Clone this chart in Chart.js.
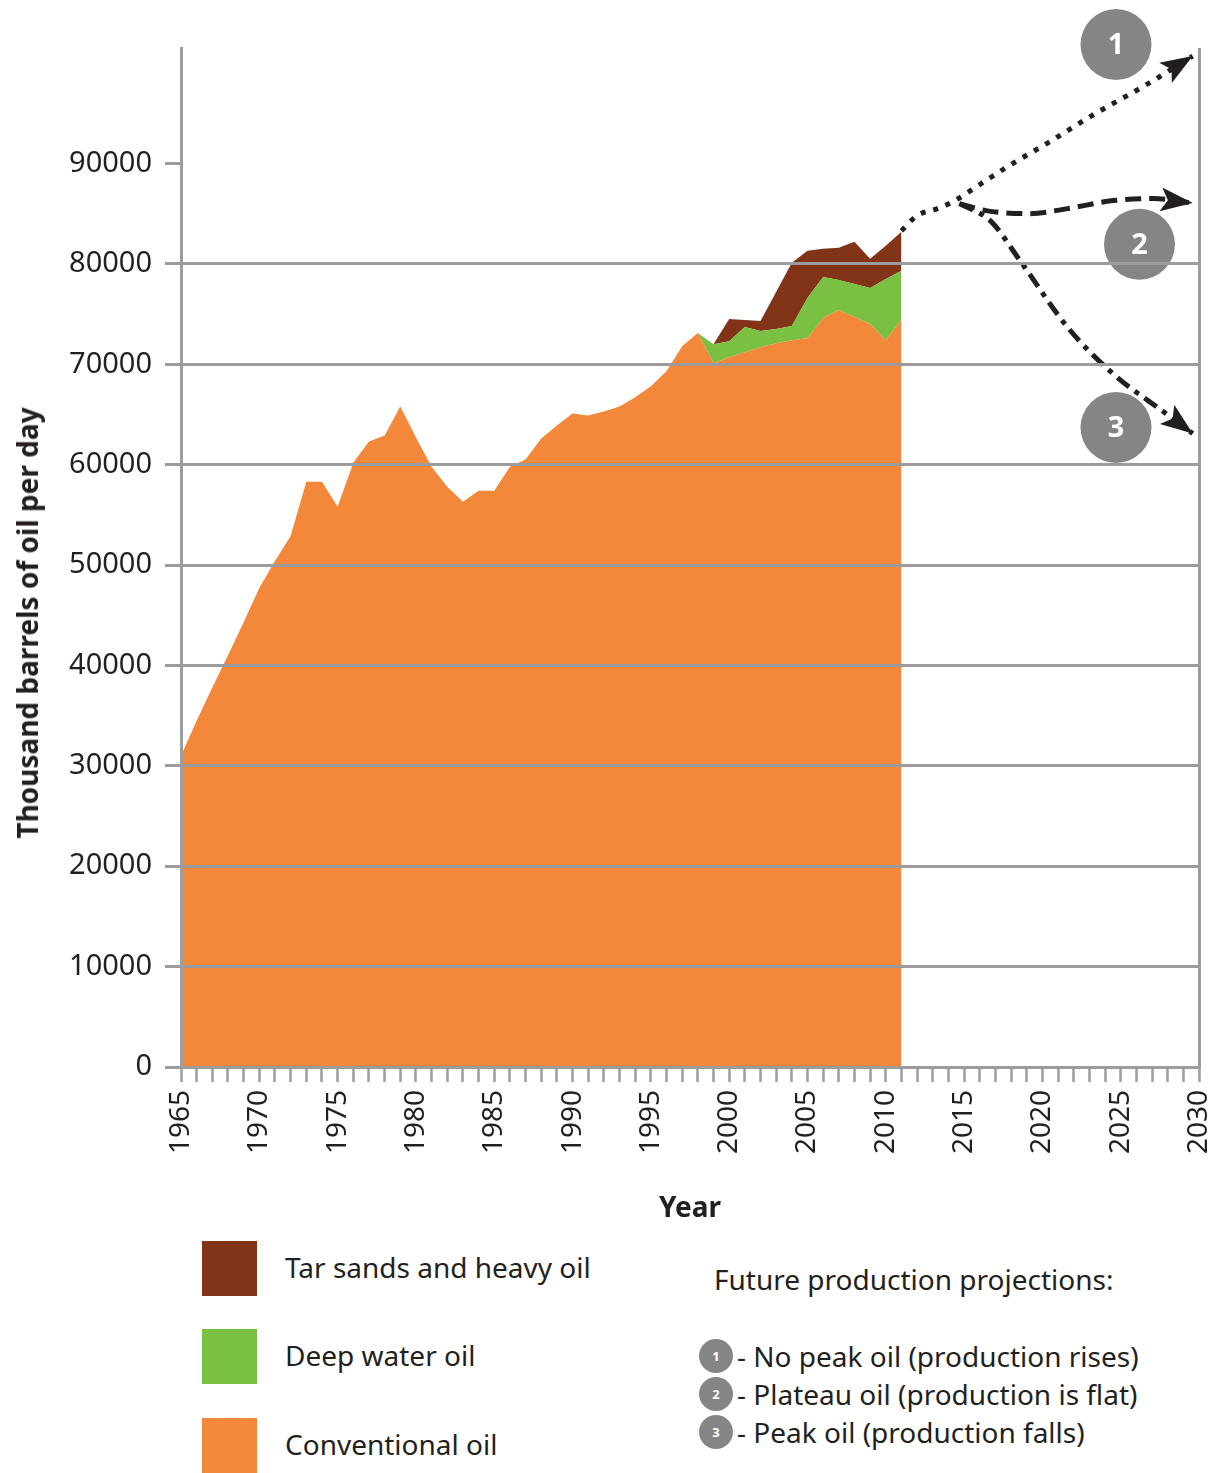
<!DOCTYPE html>
<html>
<head>
<meta charset="utf-8">
<script src="https://cdn.jsdelivr.net/npm/chart.js@4.4.1/dist/chart.umd.min.js"></script>
<style>
  body { margin: 0; background: #fff; font-family: "Noto Sans", sans-serif; color: #231f20; }
  #wrap { position: relative; width: 1223px; height: 1473px; overflow: hidden; }
  #chart { position: absolute; left: 0; top: 0; }
  #ytitle { position: absolute; left: 27px; top: 623px; transform: translate(-50%, -50%) rotate(-90deg);
            white-space: nowrap; font-weight: bold; font-size: 28px; }
  .sw { position: absolute; left: 202px; width: 55px; height: 55px; }
  .lt { position: absolute; left: 285px; font-size: 28px; line-height: 36px; white-space: nowrap; }
  .pt { position: absolute; left: 714px; font-size: 28px; line-height: 36px; white-space: nowrap; }
  .dot { position: absolute; left: 699px; width: 34px; height: 34px; border-radius: 50%; background: #858585;
         color: #fff; font-weight: bold; font-size: 13px; line-height: 34px; text-align: center; }
  .pi { position: absolute; left: 737px; font-size: 28px; line-height: 36px; white-space: nowrap; }
</style>
</head>
<body>
<div id="wrap">
  <canvas id="chart" width="1223" height="1230"></canvas>
  <div id="ytitle">Thousand barrels of oil per day</div>

  <div class="sw" style="top:1241px;background:#823418"></div>
  <div class="lt" style="top:1249px">Tar sands and heavy oil</div>
  <div class="sw" style="top:1329px;background:#7ac143"></div>
  <div class="lt" style="top:1337px">Deep water oil</div>
  <div class="sw" style="top:1418px;background:#f3873a"></div>
  <div class="lt" style="top:1426px">Conventional oil</div>

  <div class="pt" style="top:1261px">Future production projections:</div>
  <div class="dot" style="top:1339px">1</div>
  <div class="pi" style="top:1338px">- No peak oil (production rises)</div>
  <div class="dot" style="top:1377px">2</div>
  <div class="pi" style="top:1376px">- Plateau oil (production is flat)</div>
  <div class="dot" style="top:1415px">3</div>
  <div class="pi" style="top:1414px">- Peak oil (production falls)</div>
</div>

<script>
// ===== data =====
const years = [1965,1966,1967,1968,1969,1970,1971,1972,1973,1974,1975,1976,1977,1978,1979,
  1980,1981,1982,1983,1984,1985,1986,1987,1988,1989,1990,1991,1992,1993,1994,1995,1996,1997,
  1998,1999,2000,2001,2002,2003,2004,2005,2006,2007,2008,2009,2010,2011];
const conventional = [31000,34500,37800,41000,44300,47700,50400,52900,58300,58300,55800,60200,62300,62900,65800,
  62700,59800,57800,56300,57400,57400,59800,60500,62600,63900,65100,64900,65300,65800,66700,67800,69300,71800,
  73100,70100,70700,71200,71700,72100,72400,72600,74600,75400,74700,74000,72400,74400];

const deepYears = [1998,1999,2000,2001,2002,2003,2004,2005,2006,2007,2008,2009,2010,2011];
const deepWater = [0,1900,1600,2500,1600,1400,1400,4000,4100,3000,3300,3600,6100,4900];

const tarYears = [1999,2000,2001,2002,2003,2004,2005,2006,2007,2008,2009,2010,2011];
const tarSands = [0,2200,700,1000,3700,6300,4700,2800,3200,4200,2900,3300,3900];

// projections
const p1Years = [2011,2012,2013.3,2014.3,2016,2018,2020.3,2023.2,2026.7,2029.6];
const p1Values = [83300,84800,85500,86200,87900,89900,92000,94800,97900,100700];
const p2Years = [2014.7,2016.4,2019.2,2021.6,2024.5,2027.1,2029.6];
const p2Values = [86000,85300,85000,85500,86300,86500,86050];
const p3Years = [2014.7,2016.7,2018.6,2021.6,2024.5,2027.9,2029.6];
const p3Values = [86000,84250,80260,73700,69070,65080,63100];

// numbered markers
const markerLabels = ["1","2","3"];
const markerYears = [2024.7,2026.2,2024.7];
const markerValues = [101850,81950,63700];

const yTicks = [0,10000,20000,30000,40000,50000,60000,70000,80000,90000];
const xTicks = [];
for (let y = 1965; y <= 2030; y++) xTicks.push(y);

const GRAY = "#9c9c9e";
const INK = "#231f20";
const FONT = "'Noto Sans', sans-serif";

function pts(xs, ys) { return xs.map((x, i) => ({ x: x, y: ys[i] })); }

function projection(xs, ys, dash, name) {
  return {
    type: "line", label: name, data: pts(xs, ys), stack: name,
    borderColor: INK, borderWidth: 5, borderDash: dash, borderCapStyle: "butt",
    pointRadius: 0, fill: false, tension: 0.4, cubicInterpolationMode: "monotone", arrow: true
  };
}

// arrow heads + numbered circles
const extras = {
  id: "extras",
  afterDatasetsDraw(chart) {
    const ctx = chart.ctx;
    chart.data.datasets.forEach((ds, i) => {
      if (!ds.arrow) return;
      const pts = chart.getDatasetMeta(i).data;
      const last = pts[pts.length - 1];
      let bx = last.cp1x, by = last.cp1y;
      if (bx === undefined || (Math.abs(bx - last.x) < 0.5 && Math.abs(by - last.y) < 0.5)) {
        bx = pts[pts.length - 2].x; by = pts[pts.length - 2].y;
      }
      const a = Math.atan2(last.y - by, last.x - bx);
      ctx.save();
      ctx.translate(last.x, last.y);
      ctx.rotate(a);
      ctx.fillStyle = INK;
      ctx.beginPath();
      ctx.moveTo(0, 0);
      ctx.lineTo(-32, -12);
      ctx.lineTo(-25, 0);
      ctx.lineTo(-32, 12);
      ctx.closePath();
      ctx.fill();
      ctx.restore();
    });
    const xs = chart.scales.x, ys = chart.scales.y;
    markerLabels.forEach((t, i) => {
      const cx = xs.getPixelForValue(markerYears[i]);
      const cy = ys.getPixelForValue(markerValues[i]);
      ctx.save();
      ctx.fillStyle = "#858585";
      ctx.beginPath();
      ctx.arc(cx, cy, 35.5, 0, Math.PI * 2);
      ctx.fill();
      ctx.fillStyle = "#fff";
      ctx.font = "bold 29px " + FONT;
      ctx.textAlign = "center";
      ctx.textBaseline = "middle";
      ctx.fillText(t, cx, cy + 1);
      ctx.restore();
    });
  }
};

new Chart(document.getElementById("chart"), {
  type: "line",
  data: {
    datasets: [
      { label: "Conventional oil", data: pts(years, conventional), stack: "oil",
        backgroundColor: "#f3873a", borderWidth: 0, pointRadius: 0, fill: "origin", tension: 0 },
      { label: "Deep water oil", data: pts(deepYears, deepWater), stack: "oil",
        backgroundColor: "#7ac143", borderWidth: 0, pointRadius: 0, fill: "-1", tension: 0 },
      { label: "Tar sands and heavy oil", data: pts(tarYears, tarSands), stack: "oil",
        backgroundColor: "#823418", borderWidth: 0, pointRadius: 0, fill: "-1", tension: 0 },
      projection(p1Years, p1Values, [5, 8], "p1"),
      projection(p2Years, p2Values, [16, 8], "p2"),
      projection(p3Years, p3Values, [15, 7, 5, 7], "p3")
    ]
  },
  options: {
    responsive: false,
    animation: false,
    layout: { padding: { top: 48, right: 24, left: 0, bottom: 0 } },
    plugins: { legend: { display: false }, tooltip: { enabled: false } },
    scales: {
      x: {
        type: "linear", min: 1965, max: 2030,
        afterBuildTicks: s => { s.ticks = xTicks.map(v => ({ value: v })); },
        afterFit: s => { s.height = 163; s.paddingLeft = 0; s.paddingRight = 0; },
        ticks: {
          autoSkip: false, maxRotation: 90, minRotation: 90, padding: 8,
          color: INK, font: { family: FONT, size: 28 },
          callback: v => (v % 5 === 0 ? String(v) : "")
        },
        grid: {
          color: c => (c.tick && c.tick.value === 2030 ? GRAY : "transparent"),
          lineWidth: 3, tickColor: GRAY, tickWidth: 2.5, tickLength: 15, z: 1
        },
        border: { color: GRAY, width: 3, z: 1 },
        title: { display: true, text: "Year", color: INK, padding: { top: 0, bottom: 4 },
                 font: { family: FONT, size: 28, weight: "bold" } }
      },
      y: {
        stacked: true, min: 0, max: 101500,
        afterBuildTicks: s => { s.ticks = yTicks.map(v => ({ value: v })); },
        afterFit: s => { s.width = 181; s.paddingTop = 0; s.paddingBottom = 0; },
        ticks: { padding: 13, color: INK, font: { family: FONT, size: 29 }, callback: v => String(v) },
        grid: {
          color: c => (c.tick && c.tick.value === 90000 ? "transparent" : GRAY),
          lineWidth: 3, tickColor: GRAY, tickWidth: 3, tickLength: 16, z: 1
        },
        border: { color: GRAY, width: 3, z: 1 }
      }
    }
  },
  plugins: [extras]
});
</script>
</body>
</html>
